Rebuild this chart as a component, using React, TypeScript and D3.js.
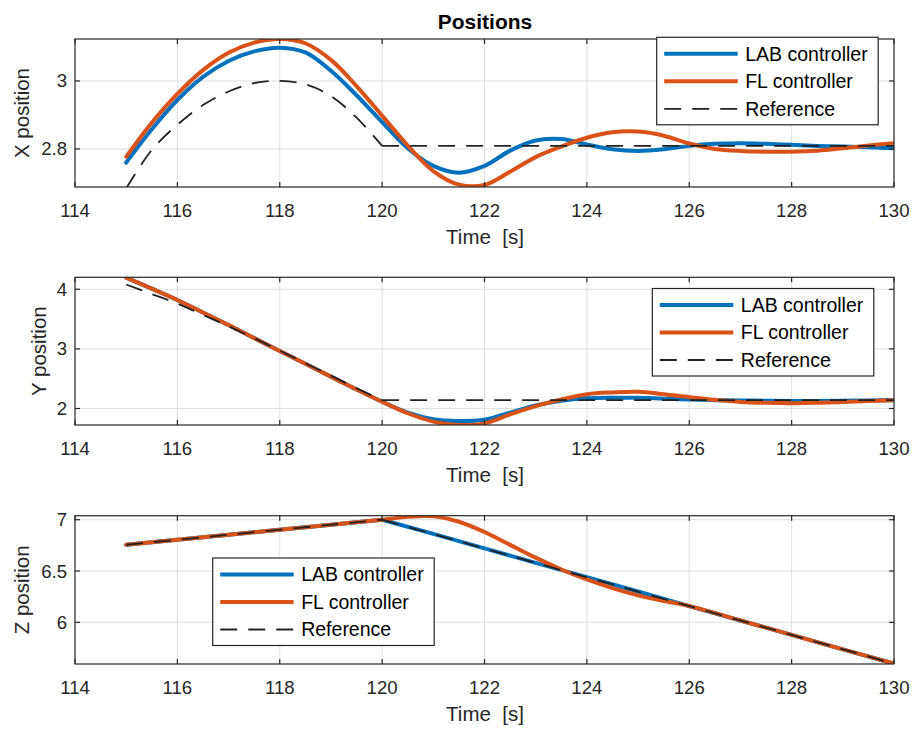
import React from "react";
import * as d3 from "d3";

// ---------- data ----------
const time = [115, 115.5, 116, 116.5, 117, 117.5, 118, 118.5, 119, 119.5, 120, 120.5, 121, 121.5, 122, 122.5, 123, 123.5, 124, 124.5, 125, 125.5, 126, 126.5, 127, 127.5, 128, 128.5, 129, 129.5, 130];

const xLab = [2.760, 2.858, 2.944, 3.012, 3.059, 3.087, 3.098, 3.084, 3.030, 2.958, 2.879, 2.802, 2.750, 2.730, 2.750, 2.795, 2.825, 2.829, 2.813, 2.799, 2.794, 2.799, 2.809, 2.815, 2.817, 2.815, 2.812, 2.809, 2.807, 2.805, 2.802];
const xFL = [2.777, 2.877, 2.962, 3.032, 3.083, 3.113, 3.1235, 3.111, 3.062, 2.985, 2.898, 2.810, 2.735, 2.695, 2.694, 2.733, 2.776, 2.807, 2.833, 2.849, 2.851, 2.839, 2.816, 2.800, 2.794, 2.792, 2.792, 2.795, 2.802, 2.810, 2.817];
const xRefTime = [115, 115.5, 116, 116.5, 117, 117.5, 118, 118.5, 119, 119.5, 120, 130];
const xRef = [2.684, 2.797, 2.871, 2.929, 2.969, 2.994, 3.0, 2.99, 2.956, 2.892, 2.809, 2.809];

const yLab = [4.195, 4.01, 3.82, 3.61, 3.40, 3.18, 2.965, 2.75, 2.534, 2.32, 2.114, 1.93, 1.82, 1.79, 1.81, 1.93, 2.05, 2.13, 2.17, 2.18, 2.18, 2.165, 2.15, 2.14, 2.135, 2.13, 2.125, 2.125, 2.13, 2.135, 2.14];
const yFL = [4.195, 4.01, 3.82, 3.61, 3.40, 3.18, 2.965, 2.75, 2.534, 2.32, 2.114, 1.92, 1.78, 1.725, 1.75, 1.90, 2.04, 2.15, 2.24, 2.27, 2.28, 2.24, 2.19, 2.145, 2.11, 2.095, 2.09, 2.095, 2.11, 2.125, 2.14];
const yRefTime = [115, 115.5, 116, 116.5, 117, 117.5, 118, 118.5, 119, 119.5, 120, 130];
const yRef = [4.08, 3.92, 3.76, 3.57, 3.38, 3.18, 2.97, 2.76, 2.55, 2.34, 2.14, 2.14];

const zLabTime = [115, 116, 117, 118, 119, 120, 121, 122, 123, 124, 125, 126, 127, 128, 129, 130];
const zLab = [6.756, 6.805, 6.854, 6.902, 6.951, 7.0, 6.862, 6.72, 6.58, 6.44, 6.30, 6.158, 6.018, 5.878, 5.737, 5.597];
const zFLTime = [115, 116, 117, 118, 119, 120, 120.5, 121, 121.5, 122, 122.5, 123, 123.5, 124, 124.5, 125, 125.5, 126, 127, 128, 129, 130];
const zFL = [6.756, 6.805, 6.854, 6.902, 6.951, 7.0, 7.028, 7.033, 6.98, 6.88, 6.755, 6.63, 6.515, 6.418, 6.334, 6.263, 6.208, 6.159, 6.018, 5.878, 5.737, 5.597];
const zRefTime = [115, 120, 130];
const zRef = [6.756, 7.0, 5.597];

const xTicks = [114, 116, 118, 120, 122, 124, 126, 128, 130];
const xTickLabels = ["114", "116", "118", "120", "122", "124", "126", "128", "130"];
const seriesNames = ["LAB controller", "FL controller", "Reference"];

// ---------- styles ----------
const BLUE = "#0072BD";
const ORANGE = "#D95319";
const AX = "#262626";
const GRID = "#dfdfdf";
const FONT = "'Liberation Sans', Arial, Helvetica, sans-serif";

const X0 = 75, X1 = 894;

const panels = [
  {
    id: "x", top: 39, bottom: 187, domain: [2.688, 3.1235], yTicks: [2.8, 3], yTickLabels: ["2.8", "3"],
    label: "X position", labelX: 29,
    lab: [time, xLab], fl: [time, xFL], ref: [xRefTime, xRef], kink: 120, labCurve: "smooth",
    legend: { x: 656.7, y: 37.3 },
  },
  {
    id: "y", top: 277.3, bottom: 425, domain: [1.723, 4.201], yTicks: [2, 3, 4], yTickLabels: ["2", "3", "4"],
    label: "Y position", labelX: 45.5,
    lab: [time, yLab], fl: [time, yFL], ref: [yRefTime, yRef], kink: 120, labCurve: "smooth",
    legend: { x: 652.3, y: 288.5 },
  },
  {
    id: "z", top: 515.7, bottom: 664, domain: [5.594, 7.039], yTicks: [6, 6.5, 7], yTickLabels: ["6", "6.5", "7"],
    label: "Z position", labelX: 29,
    lab: [zLabTime, zLab], fl: [zFLTime, zFL], ref: [zRefTime, zRef], kink: 120, labCurve: "linear",
    legend: { x: 212.7, y: 558 },
  },
];

function Panel({ p }: { p: any }) {
  const x = d3.scaleLinear().domain([114, 130]).range([X0, X1]);
  const y = d3.scaleLinear().domain(p.domain).range([p.bottom, p.top]);
  const mk = (curve: any) =>
    d3.line<[number, number]>().x((d) => x(d[0])).y((d) => y(d[1])).curve(curve);
  const smooth = mk(d3.curveCatmullRom.alpha(0.5));
  const lin = mk(d3.curveLinear);
  const pts = (s: any) => s[0].map((t: number, i: number) => [t, s[1][i]] as [number, number]);
  const refPts = pts(p.ref);
  const refA = refPts.filter((d: [number, number]) => d[0] <= p.kink);
  const refB = refPts.filter((d: [number, number]) => d[0] >= p.kink);
  const flPts = pts(p.fl);
  const clipId = "clip-" + p.id;
  const tl = 5;
  const L = p.legend;
  const rows = [16.5, 44, 71.5];
  const refD = (smooth(refA) || "") + " " + (lin(refB) || "");
  return (
    <g>
      <defs>
        <clipPath id={clipId}>
          <rect x={X0} y={p.top} width={X1 - X0} height={p.bottom - p.top} />
        </clipPath>
      </defs>
      <rect x={X0} y={p.top} width={X1 - X0} height={p.bottom - p.top} fill="#fff" />
      {/* grid */}
      {xTicks.slice(1, -1).map((t) => (
        <line key={"gx" + t} x1={x(t)} x2={x(t)} y1={p.top} y2={p.bottom} stroke={GRID} strokeWidth={1} />
      ))}
      {p.yTicks.map((v: number) => (
        <line key={"gy" + v} x1={X0} x2={X1} y1={y(v)} y2={y(v)} stroke={GRID} strokeWidth={1} />
      ))}
      {/* data */}
      <g clipPath={`url(#${clipId})`}>
        <path d={(p.labCurve === "linear" ? lin : smooth)(pts(p.lab)) || ""} fill="none" stroke={BLUE} strokeWidth={4} strokeLinejoin="round" strokeLinecap="round" />
        <path d={smooth(flPts) || ""} fill="none" stroke={ORANGE} strokeWidth={4} strokeLinejoin="round" strokeLinecap="round" />
        <path d={refD} fill="none" stroke="#222" strokeWidth={1.8} strokeDasharray="17 11" />
      </g>
      {/* box */}
      <rect x={X0} y={p.top} width={X1 - X0} height={p.bottom - p.top} fill="none" stroke={AX} strokeWidth={1.2} />
      {/* ticks */}
      {xTicks.map((t) => (
        <g key={"tx" + t}>
          <line x1={x(t)} x2={x(t)} y1={p.bottom} y2={p.bottom - tl} stroke={AX} strokeWidth={1.2} />
          <line x1={x(t)} x2={x(t)} y1={p.top} y2={p.top + tl} stroke={AX} strokeWidth={1.2} />
        </g>
      ))}
      {p.yTicks.map((v: number) => (
        <g key={"ty" + v}>
          <line x1={X0} x2={X0 + tl} y1={y(v)} y2={y(v)} stroke={AX} strokeWidth={1.2} />
          <line x1={X1} x2={X1 - tl} y1={y(v)} y2={y(v)} stroke={AX} strokeWidth={1.2} />
        </g>
      ))}
      {/* tick labels */}
      {xTicks.map((t, i) => (
        <text key={"lx" + t} x={x(t)} y={p.bottom + 30} textAnchor="middle" fontSize={18.6} fill={AX} fontFamily={FONT}>
          {xTickLabels[i]}
        </text>
      ))}
      {p.yTicks.map((v: number, i: number) => (
        <text key={"ly" + v} x={X0 - 8} y={y(v)} dy="0.35em" textAnchor="end" fontSize={18.6} fill={AX} fontFamily={FONT}>
          {p.yTickLabels[i]}
        </text>
      ))}
      <text x={485} y={p.bottom + 57} textAnchor="middle" fontSize={20.5} fill={AX} fontFamily={FONT} style={{ whiteSpace: "pre" }}>
        {"Time  [s]"}
      </text>
      <text
        transform={`translate(${p.labelX},${(p.top + p.bottom) / 2}) rotate(-90)`}
        textAnchor="middle" fontSize={20.5} fill={AX} fontFamily={FONT}
      >
        {p.label}
      </text>
      {/* legend */}
      <g>
        <rect x={L.x} y={L.y} width={221.5} height={87.5} fill="#fff" stroke={AX} strokeWidth={1.2} />
        {[BLUE, ORANGE, "#222"].map((c, i) => (
          <g key={"lg" + i}>
            <line
              x1={L.x + 7.5} x2={L.x + 81} y1={L.y + rows[i]} y2={L.y + rows[i]}
              stroke={c} strokeWidth={i < 2 ? 4 : 1.8} strokeDasharray={i === 2 ? "17 11" : undefined}
            />
            <text x={L.x + 88.5} y={L.y + rows[i]} dy="0.35em" fontSize={19.5} fill="#000" fontFamily={FONT}>
              {seriesNames[i]}
            </text>
          </g>
        ))}
      </g>
    </g>
  );
}

export default function App() {
  return (
    <svg
      width={917} height={731} viewBox="0 0 917 731"
      style={{ position: "absolute", left: 0, top: 0, background: "#fff" }}
    >
      <rect width={917} height={731} fill="#fff" />
      <text x={485} y={29} textAnchor="middle" fontSize={21} fontWeight="bold" fill="#000" fontFamily={FONT}>
        Positions
      </text>
      {panels.map((p) => (
        <Panel key={p.id} p={p} />
      ))}
    </svg>
  );
}
